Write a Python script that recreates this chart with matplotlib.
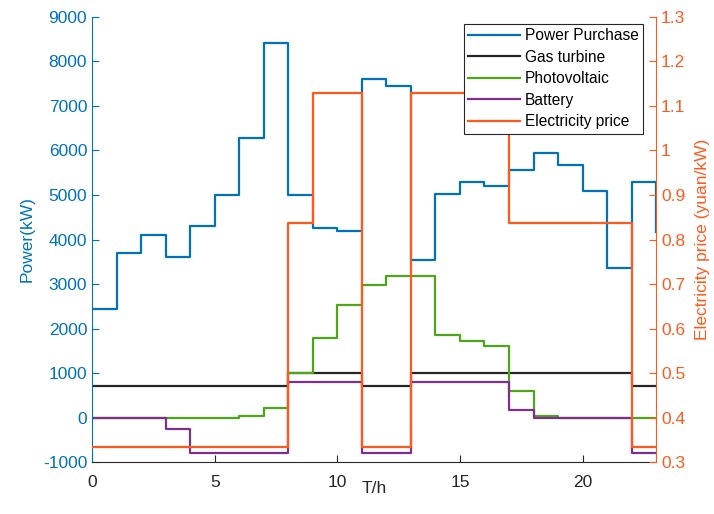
import numpy as np
import matplotlib.pyplot as plt

plt.rcParams['font.family'] = ['Liberation Sans', 'DejaVu Sans']
plt.rcParams['axes.unicode_minus'] = False

# hourly values, t = 0..23 (stairs, value holds until next hour)
hours = np.arange(24)
power_purchase = [2450, 3690, 4100, 3600, 4300, 5000, 6270, 8420, 5000, 4260, 4200, 7610,
                  7450, 3530, 5030, 5290, 5200, 5560, 5940, 5670, 5100, 3360, 5300, 4170]
gas_turbine = [700, 700, 700, 700, 700, 700, 700, 700, 1000, 1000, 1000, 700,
               700, 1000, 1000, 1000, 1000, 1000, 1000, 1000, 1000, 1000, 700, 700]
photovoltaic = [0, 0, 0, 0, 0, 0, 30, 210, 1000, 1790, 2520, 2970,
                3180, 3180, 1860, 1730, 1600, 600, 30, 0, 0, 0, 0, 0]
battery = [0, 0, 0, -250, -800, -800, -800, -800, 800, 800, 800, -800,
           -800, 800, 800, 800, 800, 160, 0, 0, 0, 0, -800, -800]
price = [0.335, 0.335, 0.335, 0.335, 0.335, 0.335, 0.335, 0.335, 0.838, 1.13, 1.13, 0.335,
         0.335, 1.13, 1.13, 1.13, 1.13, 0.838, 0.838, 0.838, 0.838, 0.838, 0.335, 0.335]

blue = '#0072BD'
orange = '#FF5A1E'
green = '#4DA619'
purple = '#7E2F8E'

fig = plt.figure(figsize=(7.14, 5.14), dpi=100)
ax = fig.add_axes([0.129, 0.101, 0.790, 0.866])
ax2 = ax.twinx()

lw = 1.6
l1, = ax.step(hours, power_purchase, where='post', color=blue, lw=lw, label='Power Purchase')
l2, = ax.step(hours, gas_turbine, where='post', color='#262626', lw=lw, label='Gas turbine')
l3, = ax.step(hours, photovoltaic, where='post', color=green, lw=lw, label='Photovoltaic')
l4, = ax.step(hours, battery, where='post', color=purple, lw=lw, label='Battery')
l5, = ax2.step(hours, price, where='post', color=orange, lw=lw, label='Electricity price')

ax.set_xlim(0, 23)
ax.set_ylim(-1000, 9000)
ax2.set_ylim(0.3, 1.3)
ax.set_xticks([0, 5, 10, 15, 20])
ax.set_yticks(np.arange(-1000, 9001, 1000))
ax2.set_yticks(np.arange(0.3, 1.31, 0.1))
ax2.set_yticklabels(['0.3', '0.4', '0.5', '0.6', '0.7', '0.8', '0.9', '1', '1.1', '1.2', '1.3'])

fs = 12.5
ax.tick_params(axis='x', direction='in', colors='#262626', labelsize=fs, length=5, pad=9)
ax.tick_params(axis='y', direction='in', colors=blue, labelsize=fs, length=5)
ax2.tick_params(axis='y', direction='in', colors=orange, labelsize=fs, length=5)

for a in (ax, ax2):
    a.spines['top'].set_visible(False)
ax.spines['right'].set_visible(False)
ax.spines['left'].set_color(blue)
ax.spines['bottom'].set_color('#262626')
ax2.spines['left'].set_visible(False)
ax2.spines['bottom'].set_visible(False)
ax2.spines['right'].set_color(orange)

ax.set_xlabel('T/h', fontsize=fs, color='#262626', labelpad=-6)
ax.set_ylabel('Power(kW)', fontsize=fs, color=blue, labelpad=6)
ax2.set_ylabel('Electricity price (yuan/kW)', fontsize=fs, color=orange, labelpad=7)

leg = ax2.legend(handles=[l1, l2, l3, l4, l5], loc='upper right',
                 bbox_to_anchor=(0.977, 0.985), fontsize=11.2, fancybox=False,
                 framealpha=1, edgecolor='#262626', handlelength=3.3,
                 borderpad=0.3, labelspacing=0.42, handletextpad=0.32, borderaxespad=0)
leg.get_frame().set_linewidth(0.8)

fig.savefig('out.png', dpi=100)
